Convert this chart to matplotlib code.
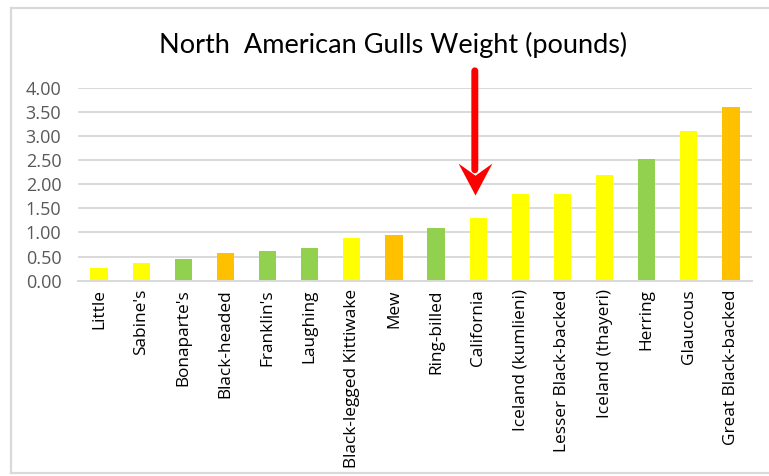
import numpy as np
import matplotlib.pyplot as plt
from matplotlib.lines import Line2D
from matplotlib.path import Path

# gull species, sorted by weight
species = [
    "Little", "Sabine's", "Bonaparte's", "Black-headed", "Franklin's",
    "Laughing", "Black-legged Kittiwake", "Mew", "Ring-billed", "California",
    "Iceland (kumlieni)", "Lesser Black-backed", "Iceland (thayeri)",
    "Herring", "Glaucous", "Great Black-backed",
]
weight_lb = [0.27, 0.37, 0.45, 0.57, 0.62, 0.68, 0.88, 0.95, 1.10, 1.30,
             1.80, 1.80, 2.20, 2.52, 3.10, 3.60]
bar_colors = ["#FFFF00", "#FFFF00", "#92D050", "#FFC000", "#92D050",
              "#92D050", "#FFFF00", "#FFC000", "#92D050", "#FFFF00",
              "#FFFF00", "#FFFF00", "#FFFF00", "#92D050", "#FFFF00",
              "#FFC000"]
highlight = "California"
yticks = [0.0, 0.5, 1.0, 1.5, 2.0, 2.5, 3.0, 3.5, 4.0]

plt.rcParams["font.family"] = ["Open Sans", "DejaVu Sans"]

W, H = 769, 476
fig = plt.figure(figsize=(W / 100, H / 100), dpi=100)
ax = fig.add_axes([78 / W, 1 - 280.7 / H, (752 - 78) / W, (280.7 - 87.7) / H])

x = np.arange(len(species))
ax.bar(x, weight_lb, width=0.41, color=bar_colors, zorder=2)

ax.set_xlim(-0.5, len(species) - 0.5)
ax.set_ylim(0, 4)
ax.set_yticks(yticks, [f"{v:.2f}" for v in yticks])
ax.set_xticks(x, species, rotation=90)
ax.tick_params(axis="y", length=0, pad=12, labelsize=13, labelcolor="#595959")
ax.tick_params(axis="x", length=0, pad=6, labelsize=12.4, labelcolor="#000000")
ax.grid(axis="y", color="#d9d9d9", lw=1.4, zorder=0)
for side in ("top", "right", "left"):
    ax.spines[side].set_visible(False)
ax.spines["bottom"].set_color("#d9d9d9")
ax.spines["bottom"].set_linewidth(1.4)

fig.text(393 / W, 1 - 45 / H, "North  American Gulls Weight (pounds)",
         ha="center", va="center", fontsize=19.5, family=["Lato", "DejaVu Sans"])

# red arrow pointing down at the highlighted species
xi = species.index(highlight)
tip, tail = 1.78, 4.35
ax.annotate("", xy=(xi - 0.08, 2.3), xytext=(xi - 0.08, tail),
            arrowprops=dict(arrowstyle="-", lw=5, color="#FF0000",
                            capstyle="round", shrinkA=0, shrinkB=0),
            annotation_clip=False, zorder=5)
head = Path([(0, 0), (0.53, 1), (0, 0.62), (-0.53, 1), (0, 0)],
            [Path.MOVETO, Path.LINETO, Path.LINETO, Path.LINETO, Path.CLOSEPOLY])
ax.plot([xi - 0.08], [tip], marker=head, markersize=46, color="#FF0000",
        mec="none", clip_on=False, zorder=6)

# chart frame
frame = dict(color="#d9d9d9", lw=1.6, transform=fig.transFigure)
fig.add_artist(Line2D([10.5 / W, 1.01], [1 - 7.5 / H] * 2, **frame))
fig.add_artist(Line2D([10.5 / W] * 2, [1 - 7.5 / H, 1 - 472.7 / H], **frame))
fig.add_artist(Line2D([10.5 / W, 1.01], [1 - 472.7 / H] * 2, **frame))

fig.savefig("out.png", dpi=100)
